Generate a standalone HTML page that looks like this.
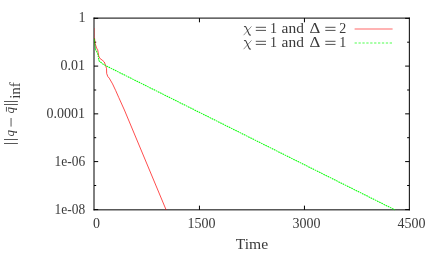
<!DOCTYPE html>
<html>
<head>
<meta charset="utf-8">
<style>
html,body{margin:0;padding:0;background:#fff;}
body{width:436px;height:255px;overflow:hidden;position:relative;font-family:"Liberation Serif",serif;}
svg{position:absolute;left:0;top:0;will-change:transform;}
text{font-family:"Liberation Serif",serif;fill:#3a3a3a;}
.i{font-style:italic;}
</style>
</head>
<body>
<svg width="436" height="255" viewBox="0 0 436 255">
  <!-- frame -->
  <g stroke="#000" stroke-width="1" fill="none">
    <line x1="94" x2="94" y1="17.6" y2="210.35"/>
    <line x1="409.35" x2="409.35" y1="17.6" y2="210.35"/>
    <line x1="93.5" x2="409.85" y1="18.1" y2="18.1"/>
    <line x1="93.5" x2="409.85" y1="209.85" y2="209.85"/>
  </g>
  <!-- ticks -->
  <g stroke="#000" stroke-width="1">
    <path d="M94,18.35h4.2 M94,66.1h4.2 M94,113.85h4.2 M94,161.6h4.2 M94,209.6h4.2"/>
    <path d="M409.35,18.35h-4.2 M409.35,66.1h-4.2 M409.35,113.85h-4.2 M409.35,161.6h-4.2 M409.35,209.6h-4.2"/>
    <path d="M94,42.2h2.2 M94,90h2.2 M94,137.7h2.2 M94,185.5h2.2"/>
    <path d="M409.35,42.2h-2.2 M409.35,90h-2.2 M409.35,137.7h-2.2 M409.35,185.5h-2.2"/>
    <path d="M199.45,209.85v-4.2 M304.45,209.85v-4.2 M199.45,18.1v4.2 M304.45,18.1v4.2"/>
  </g>
  <!-- curves -->
  <line x1="94.45" x2="94.45" y1="28" y2="38.5" stroke="#ff0000" stroke-width="0.7" opacity="0.4"/>
  <polyline fill="none" stroke="#ff0000" stroke-width="0.7" stroke-linejoin="round" points="94.5,38 95.1,43.4 96.6,48.1 97.7,49.7 98.7,56 99.8,58.3 102.9,60.7 104.3,62 105.6,65.5 106.5,68.5 106.7,73.5 107.8,76.5 109.25,78.2 112.55,83.9 115.7,90.55 118.8,97.6 124.4,110 141.1,150 166.1,209.85"/>
  <polyline fill="none" stroke="#00ff00" stroke-width="1.05" stroke-dasharray="1.7,0.7" stroke-opacity="0.95" points="95.4,48.9 97.7,53.6 98.5,57.5 99,60.7 102.1,63.5 106,65.8 394.9,209.85"/>
  <polyline fill="none" stroke="#00c000" stroke-width="0.8" points="94.5,38.5 94.6,42.6 95.4,48.9"/>
  <!-- legend samples -->
  <line x1="354.6" x2="392.6" y1="29" y2="29" stroke="#ff0000" stroke-width="0.6"/>
  <line x1="354.6" x2="392.3" y1="43" y2="43" stroke="#00ff00" stroke-width="0.7" stroke-dasharray="2.3,1.6"/>
  <!-- tick labels -->
  <g font-size="14">
    <text x="85.6" y="22" text-anchor="end">1</text>
    <text x="85" y="70" text-anchor="end">0.01</text>
    <text x="85" y="117.8" text-anchor="end">0.0001</text>
    <text x="54.6" y="165.8" textLength="30.6" lengthAdjust="spacingAndGlyphs">1e-06</text>
    <text x="54.6" y="213.8" textLength="30.6" lengthAdjust="spacingAndGlyphs">1e-08</text>
    <text x="96.5" y="228.4" text-anchor="middle">0</text>
    <text x="201.6" y="228.4" text-anchor="middle">1500</text>
    <text x="306.6" y="228.4" text-anchor="middle">3000</text>
    <text x="411.6" y="228.4" text-anchor="middle">4500</text>
    <text x="235.8" y="248.8" textLength="32.4" lengthAdjust="spacingAndGlyphs">Time</text>
  </g>
  <!-- legend text -->
  <g font-size="14">
    <g id="lg1">
      <path d="M244.1,26.9 C244.7,26.3 245.7,26.4 246.2,27.6 L249,34 C249.5,35.2 250.2,35.4 250.7,34.7" fill="none" stroke="#333" stroke-width="1.05"/><path d="M251.5,26.4 L243.6,35.2" fill="none" stroke="#333" stroke-width="0.55"/>
      <path d="M255.8,27.3h10.2 M255.8,30.4h10.2" stroke="#333" stroke-width="0.85"/>
      <text x="270" y="32.6">1</text>
      <text x="281.6" y="32.6" textLength="22.3" lengthAdjust="spacingAndGlyphs">and</text>
      <text x="309.4" y="32.6" textLength="10.8" lengthAdjust="spacingAndGlyphs">&Delta;</text>
      <path d="M325.3,27.3h10.2 M325.3,30.4h10.2" stroke="#333" stroke-width="0.85"/>
    </g>
    <text x="339.3" y="32.6">2</text>
    <g transform="translate(0,14)">
      <path d="M244.1,26.9 C244.7,26.3 245.7,26.4 246.2,27.6 L249,34 C249.5,35.2 250.2,35.4 250.7,34.7" fill="none" stroke="#333" stroke-width="1.05"/><path d="M251.5,26.4 L243.6,35.2" fill="none" stroke="#333" stroke-width="0.55"/>
      <path d="M255.8,27.3h10.2 M255.8,30.4h10.2" stroke="#333" stroke-width="0.85"/>
      <text x="270" y="32.6">1</text>
      <text x="281.6" y="32.6" textLength="22.3" lengthAdjust="spacingAndGlyphs">and</text>
      <text x="309.4" y="32.6" textLength="10.8" lengthAdjust="spacingAndGlyphs">&Delta;</text>
      <path d="M325.3,27.3h10.2 M325.3,30.4h10.2" stroke="#333" stroke-width="0.85"/>
      <text x="339.3" y="32.6">1</text>
    </g>
  </g>
  <!-- y label (rotated) -->
  <g font-size="14">
    <path d="M4,143.5H17.9 M4,139.5H17.9 M4,104.5H17.9 M4,101.5H17.9 M11.05,118V126.6 M6.45,106.9V111.6" stroke="#3a3a3a" stroke-width="0.85" fill="none"/>
    <text class="i" font-size="13" transform="translate(14.35,136.6) rotate(-90)">q</text>
    <text class="i" font-size="13" transform="translate(14.35,113.6) rotate(-90)">q</text>
    <text transform="translate(19.6,98.8) rotate(-90)" textLength="16.6" lengthAdjust="spacingAndGlyphs">inf</text>
  </g>
</svg>
</body>
</html>
